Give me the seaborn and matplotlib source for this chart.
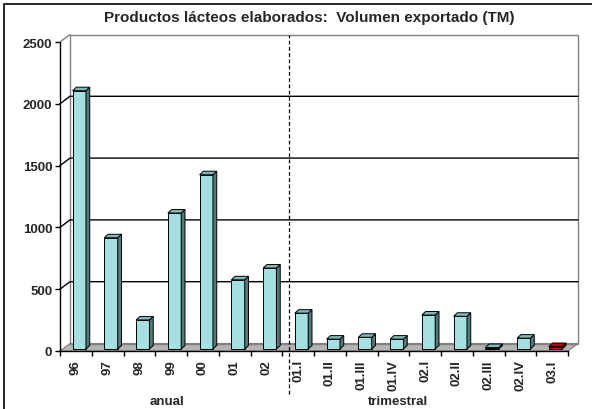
import numpy as np
import pandas as pd
import matplotlib
matplotlib.use('Agg')
import matplotlib.pyplot as plt
import seaborn as sns
from matplotlib.patches import Polygon, Rectangle

# Data
periods = ['96', '97', '98', '99', '00', '01', '02',
           '01.I', '01.II', '01.III', '01.IV', '02.I', '02.II', '02.III', '02.IV', '03.I']
volume = [2090, 900, 235, 1100, 1410, 560, 655,
          290, 80, 95, 80, 275, 265, 12, 88, 20]
bar_colors = ['#a3e1e1'] * 15 + ['#ff0000']
side_colors = ['#4d7b7b'] * 15 + ['#800000']
top_colors = ['#7fb8b8'] * 15 + ['#c00000']
y_ticks = [0, 500, 1000, 1500, 2000, 2500]
group_labels = ['anual', 'trimestral']

df = pd.DataFrame({'periodo': periods, 'volumen': volume})

sns.set_style('white')
plt.rcParams['font.family'] = ['Liberation Sans', 'DejaVu Sans']

W, H = 592, 410
fig = plt.figure(figsize=(W / 100, H / 100), dpi=100)
ax = fig.add_axes([60 / W, (H - 352) / H, (568 - 60) / W, (352 - 43) / H])

sns.barplot(data=df, x='periodo', y='volumen', hue='periodo', palette=bar_colors,
            legend=False, width=0.42, edgecolor='black', linewidth=0.7,
            saturation=1, ax=ax, zorder=3)

ax.set_xlim(-0.5, len(periods) - 0.5)
ax.set_ylim(0, 2500)
fig.canvas.draw()

# pixel -> data units
inv = ax.transData.inverted()
def px(dx, dy):
    o = inv.transform((0, 0))
    p = inv.transform((dx, dy))
    return p[0] - o[0], p[1] - o[1]

wall_dx, wall_dy = px(10, 7.5)
bar_dx, bar_dy = px(3.4, 2)
dep_dx, dep_dy = px(3.8, 3.5)
x0, x1 = ax.get_xlim()

# floor
ax.add_patch(Polygon([(x0, 0), (x1, 0), (x1 + wall_dx, wall_dy), (x0 + wall_dx, wall_dy)],
                     closed=True, facecolor='#b4b4b4', edgecolor='#808080',
                     linewidth=0.8, clip_on=False, zorder=1))
# back wall + left wall outline
ax.add_patch(Rectangle((x0 + wall_dx, wall_dy), x1 - x0, 2500, fill=False,
                       edgecolor='#808080', linewidth=1.0, clip_on=False, zorder=1))
ax.plot([x0, x0 + wall_dx], [2500, 2500 + wall_dy], color='#808080', lw=1.0,
        clip_on=False, zorder=1)
# grid lines on back and left walls
for v in y_ticks[1:-1]:
    ax.plot([x0, x0 + wall_dx, x1 + wall_dx], [v, v + wall_dy, v + wall_dy],
            color='black', lw=1.0, clip_on=False, zorder=1)

# pseudo 3D bars
for patch, sc, tc in zip(ax.patches, side_colors, top_colors):
    patch.set_x(patch.get_x() + bar_dx)
    patch.set_y(bar_dy)
    x, w, h = patch.get_x(), patch.get_width(), patch.get_height() + bar_dy
    ax.add_patch(Polygon([(x + w, bar_dy), (x + w + dep_dx, bar_dy + dep_dy),
                          (x + w + dep_dx, h + dep_dy), (x + w, h)], closed=True,
                         facecolor=sc, edgecolor='black', linewidth=0.7,
                         clip_on=False, zorder=3))
    ax.add_patch(Polygon([(x, h), (x + w, h), (x + w + dep_dx, h + dep_dy),
                          (x + dep_dx, h + dep_dy)], closed=True,
                         facecolor=tc, edgecolor='black', linewidth=0.7,
                         clip_on=False, zorder=3))

# separator between annual and quarterly data
sep = 6.5 + px(7, 0)[0]
ax.plot([sep, sep], [-0.139, 1.023], color='black', lw=0.9, ls=(0, (3, 2)),
        transform=ax.get_xaxis_transform(), clip_on=False, zorder=4)

# axes styling
for s in ['top', 'right']:
    ax.spines[s].set_visible(False)
for s in ['left', 'bottom']:
    ax.spines[s].set_color('black')
    ax.spines[s].set_linewidth(1.0)

ax.set_yticks(y_ticks)
ax.set_yticklabels([str(v) for v in y_ticks], fontsize=9.5, fontweight='bold')
ax.tick_params(axis='y', left=True, length=3.5, width=1, pad=2, color='black')

ax.set_xticks(np.arange(-0.5, len(periods), 1.0))
ax.set_xticklabels([])
ax.set_xticks(np.arange(len(periods)), minor=True)
ax.set_xticklabels(periods, minor=True, rotation=90, fontsize=9.5, fontweight='bold')
ax.tick_params(axis='x', which='major', bottom=True, length=3.5, width=1, color='black')
ax.tick_params(axis='x', which='minor', bottom=False, length=0, pad=6)
ax.set_xlabel('')
ax.set_ylabel('')

fig.text(167 / W, 1 - 402 / H, group_labels[0], ha='center', va='center',
         fontsize=9.5, fontweight='bold')
fig.text(398 / W, 1 - 402 / H, group_labels[1], ha='center', va='center',
         fontsize=9.5, fontweight='bold')

fig.text(309 / W, 1 - 18 / H, 'Productos lácteos elaborados:  Volumen exportado (TM)',
         ha='center', va='center', fontsize=11, fontweight='bold')

# outer chart border
fig.patches.append(Rectangle((4 / W, -0.1), 1.2, 1 - 5 / H + 0.1, transform=fig.transFigure,
                             fill=False, edgecolor='black', linewidth=1.2, figure=fig))

fig.savefig('out.png', dpi=100, facecolor='white')
